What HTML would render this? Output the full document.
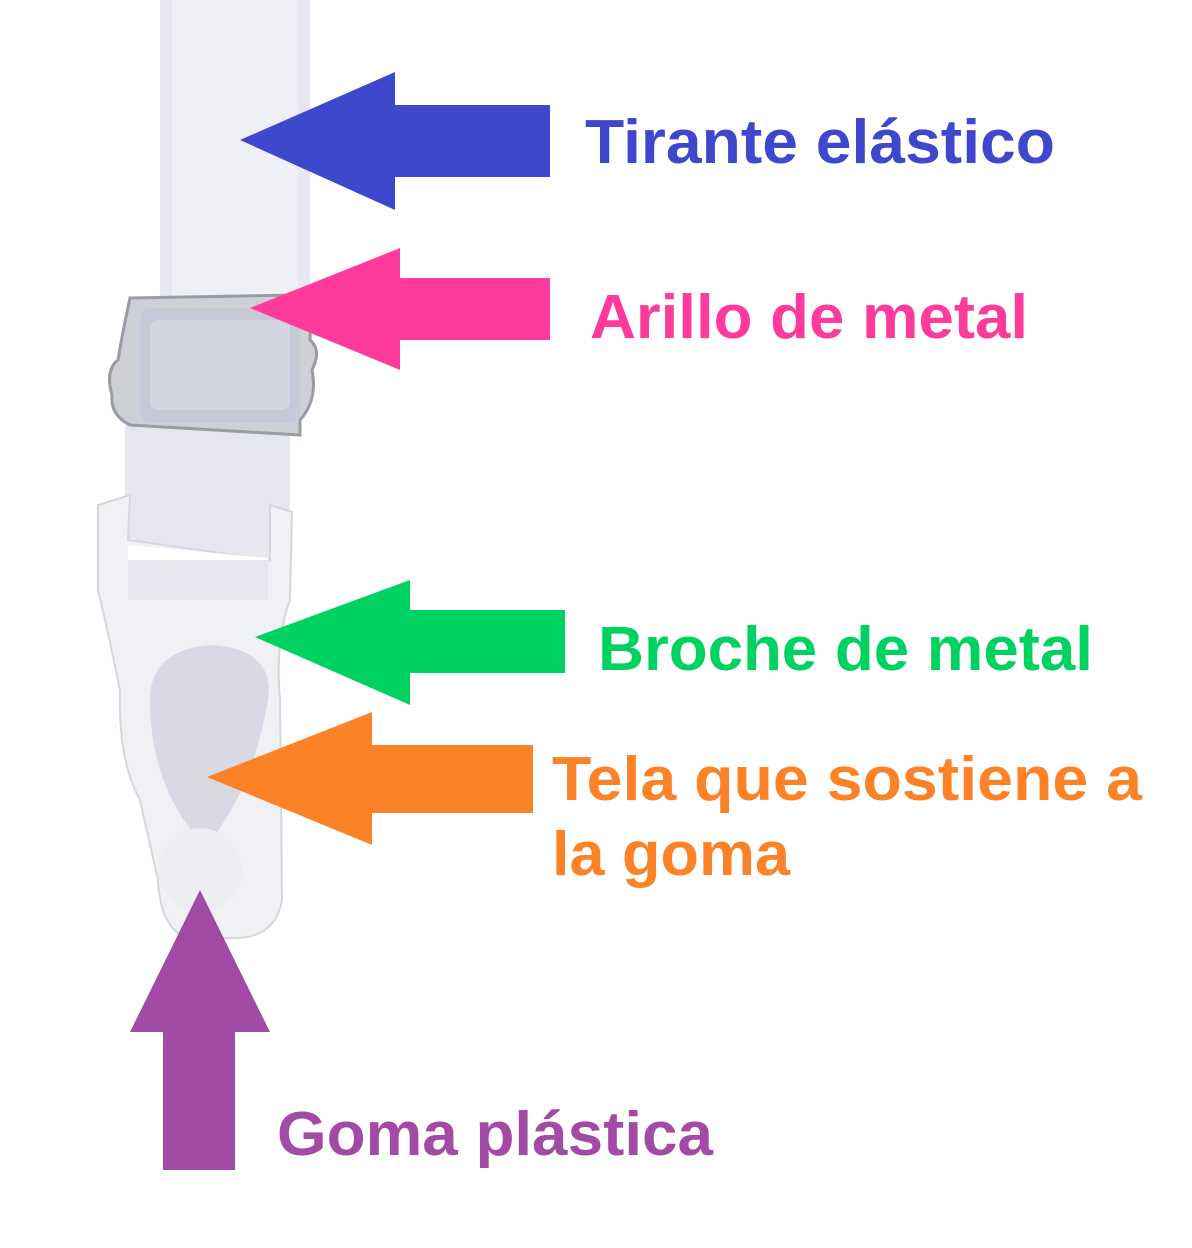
<!DOCTYPE html>
<html><head><meta charset="utf-8"><style>html,body{margin:0;padding:0;background:#fff}svg{display:block}</style></head>
<body>
<svg width="1192" height="1248" viewBox="0 0 1192 1248" xmlns="http://www.w3.org/2000/svg">
<!-- strap -->
<rect x="160" y="0" width="150" height="320" fill="#e8e9f0"/>
<rect x="172" y="0" width="126" height="320" fill="#eef0f6"/>
<!-- elastic lower -->
<rect x="125" y="420" width="165" height="140" fill="#e6e7ee"/>
<!-- slider metal -->
<path d="M130 298 L300 295 Q312 300 310 340 Q322 350 312 370 Q318 400 300 420 L300 435 L130 425 Q110 415 112 395 Q105 370 118 360 Q122 335 130 298 Z" fill="#cfd0d5" stroke="#9a9ca3" stroke-width="3"/>
<rect x="140" y="308" width="160" height="115" rx="12" fill="#c7c9d8"/>
<rect x="150" y="320" width="140" height="90" rx="8" fill="#d3d5e2"/>
<!-- clip -->
<path d="M98 505 L130 495 L128 540 L270 560 L270 505 L292 512 L290 600 Q275 640 280 700 L282 900 Q275 940 230 938 L185 938 Q160 925 158 880 L140 800 Q118 760 120 690 Q110 640 98 590 Z" fill="#f0f1f5" stroke="#d6d7de" stroke-width="2"/>
<path d="M128 545 L268 558 L268 565 L128 568 Z" fill="#fff"/>
<rect x="128" y="560" width="140" height="40" fill="#e6e7ee"/>
<path d="M210 645 Q275 648 268 700 Q255 780 215 835 L195 835 Q150 780 150 700 Q150 650 210 645 Z" fill="#d8d9e3"/>
<circle cx="200" cy="870" r="42" fill="#eceef2"/>
<!-- arrows -->
<polygon points="240,140 395,72 395,105 550,105 550,177 395,177 395,210" fill="#3f48cc"/>
<polygon points="250,308 400,248 400,278 550,278 550,340 400,340 400,370" fill="#fe3a9a"/>
<polygon points="255,637 410,580 410,610 565,610 565,673 410,673 410,705" fill="#00d262"/>
<polygon points="207,777 372,712 372,745 533,745 533,813 372,813 372,845" fill="#fc8227"/>
<polygon points="200,890 270,1032 235,1032 235,1170 163,1170 163,1032 130,1032" fill="#a24ba4"/>
<g font-family="Liberation Sans, sans-serif" font-weight="bold" font-size="62">
<text x="585" y="163" fill="#3f48cc" textLength="470" lengthAdjust="spacingAndGlyphs">Tirante elástico</text>
<text x="590" y="338" fill="#fe3a9a" textLength="438" lengthAdjust="spacingAndGlyphs">Arillo de metal</text>
<text x="598" y="670" fill="#00d262" textLength="495" lengthAdjust="spacingAndGlyphs">Broche de metal</text>
<text x="552" y="800" fill="#fc8227" textLength="590" lengthAdjust="spacingAndGlyphs">Tela que sostiene a</text>
<text x="552" y="875" fill="#fc8227" textLength="238" lengthAdjust="spacingAndGlyphs">la goma</text>
<text x="277" y="1155" fill="#a24ba4" textLength="436" lengthAdjust="spacingAndGlyphs">Goma plástica</text>
</g>
</svg>
</body></html>
